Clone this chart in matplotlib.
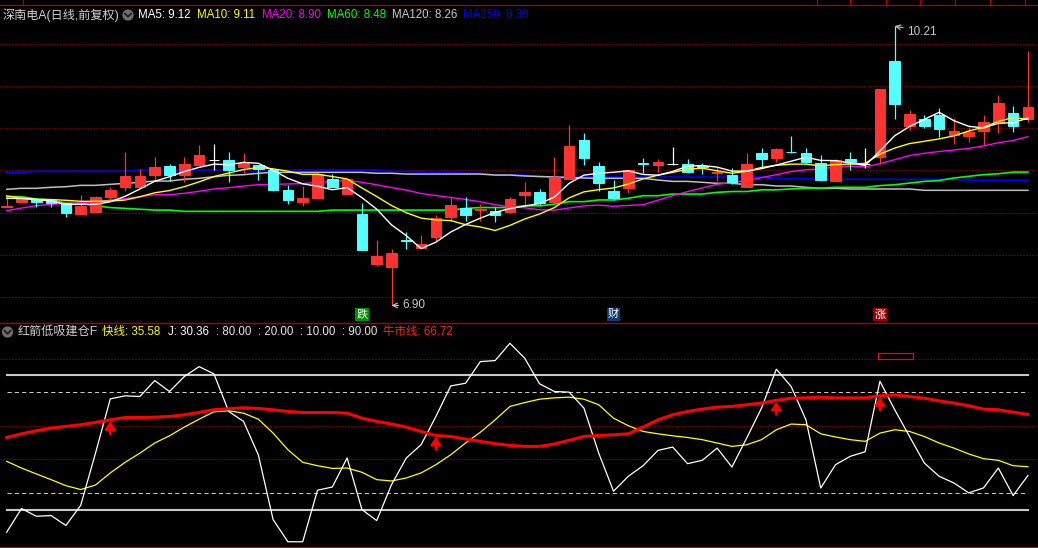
import matplotlib
matplotlib.use("Agg")
import matplotlib.pyplot as plt
import numpy as np
import pandas as pd
from matplotlib.patches import Circle, Rectangle
from matplotlib.lines import Line2D
from matplotlib.transforms import IdentityTransform

plt.rcParams['font.family'] = ['Liberation Sans', 'Noto Sans CJK SC', 'DejaVu Sans']

# ---------------- data ----------------
OPEN = [8.070, 8.129, 8.158, 8.149, 8.110, 7.983, 8.011, 8.185, 8.307, 8.307,
        8.449, 8.552, 8.449, 8.564, 8.623, 8.623, 8.544, 8.560, 8.505, 8.268,
        8.126, 8.173, 8.395, 8.220, 7.983, 7.391, 7.359, 7.672, 7.581, 7.714,
        7.951, 8.051, 8.034, 8.023, 8.007, 8.209, 8.248, 8.129, 8.395, 8.860,
        8.552, 8.259, 8.288, 8.584, 8.564, 8.579, 8.576, 8.548, 8.466, 8.445,
        8.307, 8.703, 8.650, 8.718, 8.703, 8.591, 8.378, 8.631, 8.576, 8.662,
        9.796, 9.026, 9.109, 9.156, 8.919, 8.911, 8.970, 9.077, 9.177, 9.109]
HIGH = [8.197, 8.197, 8.173, 8.161, 8.110, 8.209, 8.197, 8.303, 8.718, 8.517,
        8.659, 8.576, 8.659, 8.801, 8.813, 8.718, 8.706, 8.560, 8.505, 8.327,
        8.315, 8.470, 8.457, 8.400, 8.117, 7.675, 7.569, 7.770, 7.735, 7.972,
        8.181, 8.181, 8.102, 8.063, 8.181, 8.366, 8.280, 8.662, 9.038, 8.947,
        8.600, 8.386, 8.505, 8.650, 8.635, 8.781, 8.631, 8.584, 8.544, 8.525,
        8.703, 8.769, 8.769, 8.908, 8.762, 8.682, 8.631, 8.714, 8.769, 9.464,
        10.210, 9.216, 9.156, 9.236, 9.117, 9.011, 9.156, 9.393, 9.263, 9.915]
LOW = [8.066, 8.129, 8.066, 8.066, 7.951, 7.983, 8.011, 8.149, 8.259, 8.307,
       8.378, 8.378, 8.366, 8.564, 8.505, 8.366, 8.466, 8.386, 8.259, 8.102,
       8.078, 8.170, 8.307, 8.220, 7.557, 7.367, 6.900, 7.572, 7.581, 7.667,
       7.904, 7.904, 7.904, 7.892, 7.999, 8.090, 8.090, 8.110, 8.395, 8.564,
       8.259, 8.149, 8.236, 8.466, 8.485, 8.564, 8.473, 8.457, 8.378, 8.339,
       8.307, 8.525, 8.603, 8.703, 8.576, 8.378, 8.378, 8.505, 8.525, 8.576,
       9.109, 8.979, 9.006, 8.899, 8.813, 8.840, 8.801, 8.940, 8.959, 9.077]
CLOSE = [8.075, 8.177, 8.122, 8.110, 7.999, 8.082, 8.181, 8.268, 8.434, 8.434,
         8.540, 8.449, 8.576, 8.682, 8.623, 8.505, 8.591, 8.520, 8.268, 8.149,
         8.173, 8.457, 8.307, 8.395, 7.557, 7.489, 7.525, 7.667, 7.628, 7.940,
         8.090, 7.972, 8.039, 7.975, 8.161, 8.248, 8.110, 8.425, 8.789, 8.650,
         8.354, 8.173, 8.505, 8.579, 8.603, 8.579, 8.485, 8.544, 8.485, 8.366,
         8.576, 8.635, 8.754, 8.714, 8.603, 8.386, 8.623, 8.603, 8.576, 9.464,
         9.290, 9.168, 9.026, 8.994, 8.967, 8.959, 9.070, 9.302, 9.026, 9.248]

# moving-average values before enough closes are on screen
MA5_HEAD = [8.169, 8.167, 8.155, 8.137]
MA10_HEAD = [8.197, 8.173, 8.158, 8.155, 8.146, 8.134, 8.134, 8.137, 8.149]
MA20_HEAD = [8.023, 8.054, 8.082, 8.098, 8.110, 8.114, 8.129, 8.149, 8.165, 8.188,
             8.212, 8.212, 8.229, 8.252, 8.280, 8.295, 8.315, 8.331, 8.335]
MA60 = [8.19, 8.19, 8.16, 8.15, 8.11, 8.11, 8.08, 8.06, 8.05, 8.04,
        8.03, 8.03, 8.015, 8.015, 8.015, 8.015, 8.015, 8.015, 8.015, 8.015,
        8.015, 8.015, 8.03, 8.03, 8.03, 8.03, 8.03, 8.03, 8.03, 8.03,
        8.03, 8.05, 8.06, 8.06, 8.06, 8.08, 8.08, 8.10, 8.13, 8.13,
        8.15, 8.15, 8.17, 8.20, 8.20, 8.22, 8.22, 8.22, 8.24, 8.25,
        8.25, 8.27, 8.27, 8.28, 8.29, 8.29, 8.30, 8.30, 8.30, 8.32,
        8.33, 8.35, 8.37, 8.38, 8.41, 8.43, 8.45, 8.46, 8.48, 8.48]
MA120 = [8.276, 8.288, 8.288, 8.300, 8.307, 8.323, 8.323, 8.335, 8.347, 8.359,
         8.374, 8.374, 8.395, 8.406, 8.425, 8.442, 8.449, 8.466, 8.477, 8.477,
         8.477, 8.477, 8.477, 8.477, 8.477, 8.466, 8.466, 8.457, 8.457, 8.457,
         8.457, 8.457, 8.457, 8.445, 8.445, 8.434, 8.428, 8.422, 8.416, 8.410,
         8.406, 8.406, 8.406, 8.406, 8.386, 8.370, 8.370, 8.359, 8.347, 8.347,
         8.331, 8.331, 8.315, 8.315, 8.300, 8.288, 8.288, 8.280, 8.280, 8.280,
         8.280, 8.280, 8.264, 8.264, 8.264, 8.264, 8.264, 8.264, 8.264, 8.264]
MA250 = [8.477, 8.477, 8.489, 8.489, 8.489, 8.489, 8.489, 8.489, 8.489, 8.505,
         8.505, 8.505, 8.505, 8.505, 8.505, 8.505, 8.505, 8.505, 8.505, 8.505,
         8.505, 8.505, 8.505, 8.505, 8.505, 8.505, 8.489, 8.489, 8.477, 8.477,
         8.477, 8.466, 8.466, 8.445, 8.445, 8.445, 8.422, 8.422, 8.422, 8.422,
         8.422, 8.422, 8.422, 8.422, 8.422, 8.422, 8.422, 8.422, 8.422, 8.422,
         8.422, 8.422, 8.402, 8.402, 8.402, 8.395, 8.395, 8.395, 8.395, 8.395,
         8.395, 8.395, 8.395, 8.395, 8.395, 8.383, 8.383, 8.383, 8.383, 8.383]
MA_NAMES = ['MA5', 'MA10', 'MA20', 'MA60', 'MA120', 'MA250']
MA_LAST = [9.12, 9.11, 8.90, 8.48, 8.26, 8.38]
TITLE = '深南电A(日线,前复权)'
EVENT_IDX = [24, 41, 59]
EVENT_TXT = ['跌', '财', '涨']

IND_NAME = '红箭低吸建仓F'
J_LINE = [-3.4, 10.7, 6.1, 6.5, 0.6, 12.6, 43.7, 76.0, 77.8, 77.4,
          86.9, 80.4, 89.3, 95.2, 90.9, 68.5, 62.6, 42.7, 4.1, -9.1,
          -9.1, 21.6, 23.5, 40.8, 10.1, 3.5, 24.9, 40.8, 48.7, 65.5,
          83.7, 85.3, 98.2, 98.8, 109.1, 100.2, 85.0, 80.4, 80.0, 70.5,
          43.7, 21.0, 29.9, 36.2, 45.3, 47.3, 37.4, 39.4, 46.7, 35.4,
          52.7, 70.5, 93.7, 83.4, 63.5, 22.9, 36.8, 41.8, 44.5, 86.5,
          69.5, 53.6, 37.8, 29.9, 25.9, 20.0, 23.0, 34.8, 18.4, 30.36]
FAST = [38.8, 34.8, 31.3, 27.9, 24.3, 22.0, 24.7, 31.9, 38.2, 43.7,
        49.7, 54.0, 59.2, 63.9, 68.3, 68.9, 67.5, 63.9, 55.6, 45.7,
        38.2, 36.2, 34.6, 34.8, 32.3, 27.9, 27.1, 28.9, 31.9, 36.8,
        42.7, 49.7, 56.1, 63.5, 71.5, 73.8, 75.8, 76.6, 77.0, 75.8,
        72.5, 64.5, 60.0, 56.6, 55.2, 54.0, 53.0, 51.7, 49.7, 47.7,
        48.7, 51.7, 57.6, 61.0, 60.6, 55.2, 53.3, 51.7, 50.7, 55.6,
        57.6, 56.6, 53.6, 49.7, 46.7, 43.2, 40.4, 39.4, 36.2, 35.58]
BULL = [53.0, 55.2, 57.0, 58.6, 59.6, 60.6, 62.0, 63.5, 64.9, 64.9,
        65.1, 65.5, 66.5, 67.9, 69.5, 70.1, 70.7, 70.3, 69.5, 68.5,
        67.9, 67.9, 67.9, 67.5, 64.5, 62.6, 61.0, 59.2, 56.6, 54.2,
        53.6, 52.1, 50.7, 49.3, 48.3, 47.7, 47.7, 49.1, 51.3, 53.6,
        54.2, 54.6, 55.2, 59.2, 63.5, 66.5, 68.5, 69.9, 71.1, 71.5,
        72.5, 73.5, 75.1, 76.4, 76.6, 77.0, 76.6, 76.6, 76.6, 77.8,
        78.4, 77.4, 76.4, 74.8, 73.5, 71.9, 69.9, 69.5, 68.1, 66.72]
LEVELS = [80, 20, 10, 90]

# ---------------- layout ----------------
W, H = 1038, 548
BG = 'black'
RED_C = '#ff3232'
CYAN_C = '#54ffff'
GRID_C = '#c00000'


def fx(x):
    return x / W


def fy(y):
    return 1 - y / H


fig = plt.figure(figsize=(W / 100, H / 100), dpi=100, facecolor=BG)
TOP1, BOT1 = 5, 323
BOT2 = 546.5
ax = fig.add_axes([0, fy(BOT1), 1, (BOT1 - TOP1) / H])
ax2 = fig.add_axes([0, fy(BOT2), 1, (BOT2 - BOT1) / H])

n = len(CLOSE)
idx = np.arange(n)
XLIM = (-0.4527, 69.68)
for a in (ax, ax2):
    a.set_facecolor(BG)
    a.set_xlim(*XLIM)
    a.set_xticks([])
    a.set_yticks([])
    for s in a.spines.values():
        s.set_visible(False)

ax.set_ylim(6.692, 10.460)
ax2.set_ylim(-11.92, 121.18)
ax2.spines['top'].set_visible(True)
ax2.spines['top'].set_color('#b40000')
ax2.spines['top'].set_linewidth(1.0)
ax2.spines['bottom'].set_visible(True)
ax2.spines['bottom'].set_color('#b40000')
ax2.spines['bottom'].set_linewidth(1.0)

# grids
for v in np.arange(7.0, 10.01, 0.5):
    ax.axhline(v, color=GRID_C, lw=0.72, ls=(0, (1, 2)), zorder=0)
for v in (100, 60, 40):
    ax2.axhline(v, color=GRID_C, lw=0.72, ls=(0, (1, 2)), zorder=0)

# moving averages
cs = pd.Series(CLOSE)
ma5 = cs.rolling(5).mean().to_numpy()
ma5[:len(MA5_HEAD)] = MA5_HEAD
ma10 = cs.rolling(10).mean().to_numpy()
ma10[:len(MA10_HEAD)] = MA10_HEAD
ma20 = cs.rolling(20).mean().to_numpy()
ma20[:len(MA20_HEAD)] = MA20_HEAD

ax.plot(idx, MA250, color='#0000ff', lw=1.2, zorder=2)
ax.plot(idx, MA120, color='#c0c0c0', lw=1.1, zorder=2)
ax.plot(idx, MA60, color='#00ff00', lw=1.2, zorder=2)
ax.plot(idx, ma20, color='#ff00ff', lw=1.0, zorder=2)

# candles
O = np.array(OPEN); C = np.array(CLOSE); Hh = np.array(HIGH); L = np.array(LOW)
cols = np.where(C > O, RED_C, np.where(C < O, CYAN_C, '#ffffff'))
BW = 0.72
ax.vlines(idx, L, Hh, colors=cols, lw=0.9, zorder=3)
ax.bar(idx, np.abs(C - O), bottom=np.minimum(O, C), width=BW, color=cols,
       edgecolor=cols, linewidth=0.7, zorder=4)

ax.plot(idx, ma10, color='#ffff00', lw=1.0, zorder=5)
ax.plot(idx, ma5, color='#ffffff', lw=1.0, zorder=5)

# high / low annotations
ih = int(np.argmax(Hh)); il = int(np.argmin(L))
ax.annotate(f'{Hh[ih]:.2f}', xy=(ih, Hh[ih]), xytext=(9, -4), textcoords='offset points',
            color='#c8c8c8', fontsize=8.5, ha='left', va='center',
            arrowprops=dict(arrowstyle='->', color='#c8c8c8', lw=0.8, shrinkA=1, shrinkB=0))
ax.annotate(f'{L[il]:.2f}', xy=(il, L[il]), xytext=(8, 0), textcoords='offset points',
            color='#c8c8c8', fontsize=8.5, ha='left', va='center',
            arrowprops=dict(arrowstyle='->', color='#c8c8c8', lw=0.8, shrinkA=1, shrinkB=0))

# event markers
EV_BG = {'跌': '#009000', '财': '#0b3c78', '涨': '#9b0000'}
for i, t in zip(EVENT_IDX, EVENT_TXT):
    ax.text(i, 6.793, t, color='white', fontsize=8, ha='center', va='center',
            family=['Noto Sans CJK SC'],
            bbox=dict(boxstyle='square,pad=0.1', fc=EV_BG[t], ec='none'), zorder=6)

# ---------------- lower indicator ----------------
level_style = {80: dict(ls=(0, (4, 3)), lw=0.75), 20: dict(ls=(0, (4, 3)), lw=0.75),
               10: dict(ls='-', lw=1.5), 90: dict(ls='-', lw=1.5)}
for lv in LEVELS:
    ax2.plot(idx, np.full(n, lv), color='#c8c8c8', zorder=1, **level_style[lv])
ax2.plot(idx, FAST, color='#ffff00', lw=0.9, zorder=2)
ax2.plot(idx, J_LINE, color='#ffffff', lw=0.9, zorder=3)
ax2.plot(idx, BULL, color='#ff0000', lw=2.2, zorder=4)

jj = np.array(J_LINE); bb = np.array(BULL)
cross = [i for i in range(1, n) if jj[i] > bb[i] and jj[i - 1] <= bb[i - 1]]
for i in cross:
    ax2.annotate('', xy=(i, bb[i] - 0.8), xytext=(i, bb[i] - 8.5),
                 arrowprops=dict(arrowstyle='-|>,head_width=0.3,head_length=0.45',
                                 color='#ff0000', lw=1.8, shrinkA=0, shrinkB=0,
                                 mutation_scale=10), zorder=6)

# ---------------- decorations in pixel space ----------------
pix = IdentityTransform()


def P(x, y):
    return (x, H - y)


fig.add_artist(Line2D([0, 1], [fy(5), fy(5)], color='#b40000', lw=0.9))
for xs in [23.3, 816.7, 850.3, 885.7, 920.3, 955.3, 990.3, 1025.3]:
    fig.add_artist(Line2D([fx(xs), fx(xs)], [fy(0), fy(5)], color='#b40000', lw=0.9))

fig.add_artist(Rectangle(P(877.5, 359), 35.5, 6.5, transform=pix, fill=False,
                         ec='#ff0000', lw=0.9))


def icon(cx, cy):
    fig.add_artist(Circle(P(cx, cy), 5.6, transform=pix, fc='#6e6e6e', ec='none'))
    fig.add_artist(Line2D([cx - 3, cx, cx + 3], [H - cy + 1.3, H - cy - 1.7, H - cy + 1.3],
                          transform=pix, color='#1e1e1e', lw=1.3))


icon(128, 15)
icon(7.5, 332)

FS = 8.3
fig.text(fx(2.5), fy(15), TITLE, color='#d2d2d2', fontsize=8.7, ha='left', va='center')
ma_cols = ['#ffffff', '#ffff00', '#ff00ff', '#00ff00', '#c8c8c8', '#0000ff']
ma_x = [138, 197, 262, 327, 392, 463]
for nm, v, c, x in zip(MA_NAMES, MA_LAST, ma_cols, ma_x):
    fig.text(fx(x), fy(15), f'{nm}: {v:.2f}', color=c, fontsize=FS, ha='left', va='center')

fig.text(fx(17.3), fy(332), IND_NAME, color='#d2d2d2', fontsize=8.7, ha='left', va='center')
fig.text(fx(101.7), fy(332), f'快线: {FAST[-1]:.2f}', color='#ffff00', fontsize=FS,
         ha='left', va='center')
fig.text(fx(167.7), fy(332), f'J: {J_LINE[-1]:.2f}', color='#ffffff', fontsize=FS,
         ha='left', va='center')
for lv, x in zip(LEVELS, [216, 258, 300, 342]):
    fig.text(fx(x), fy(332), f': {lv:.2f}', color='#e6e6e6', fontsize=FS, ha='left', va='center')
fig.text(fx(383), fy(332), f'牛市线: {BULL[-1]:.2f}', color='#ff2020', fontsize=FS,
         ha='left', va='center')

fig.savefig('out.png', dpi=100, facecolor=BG)
